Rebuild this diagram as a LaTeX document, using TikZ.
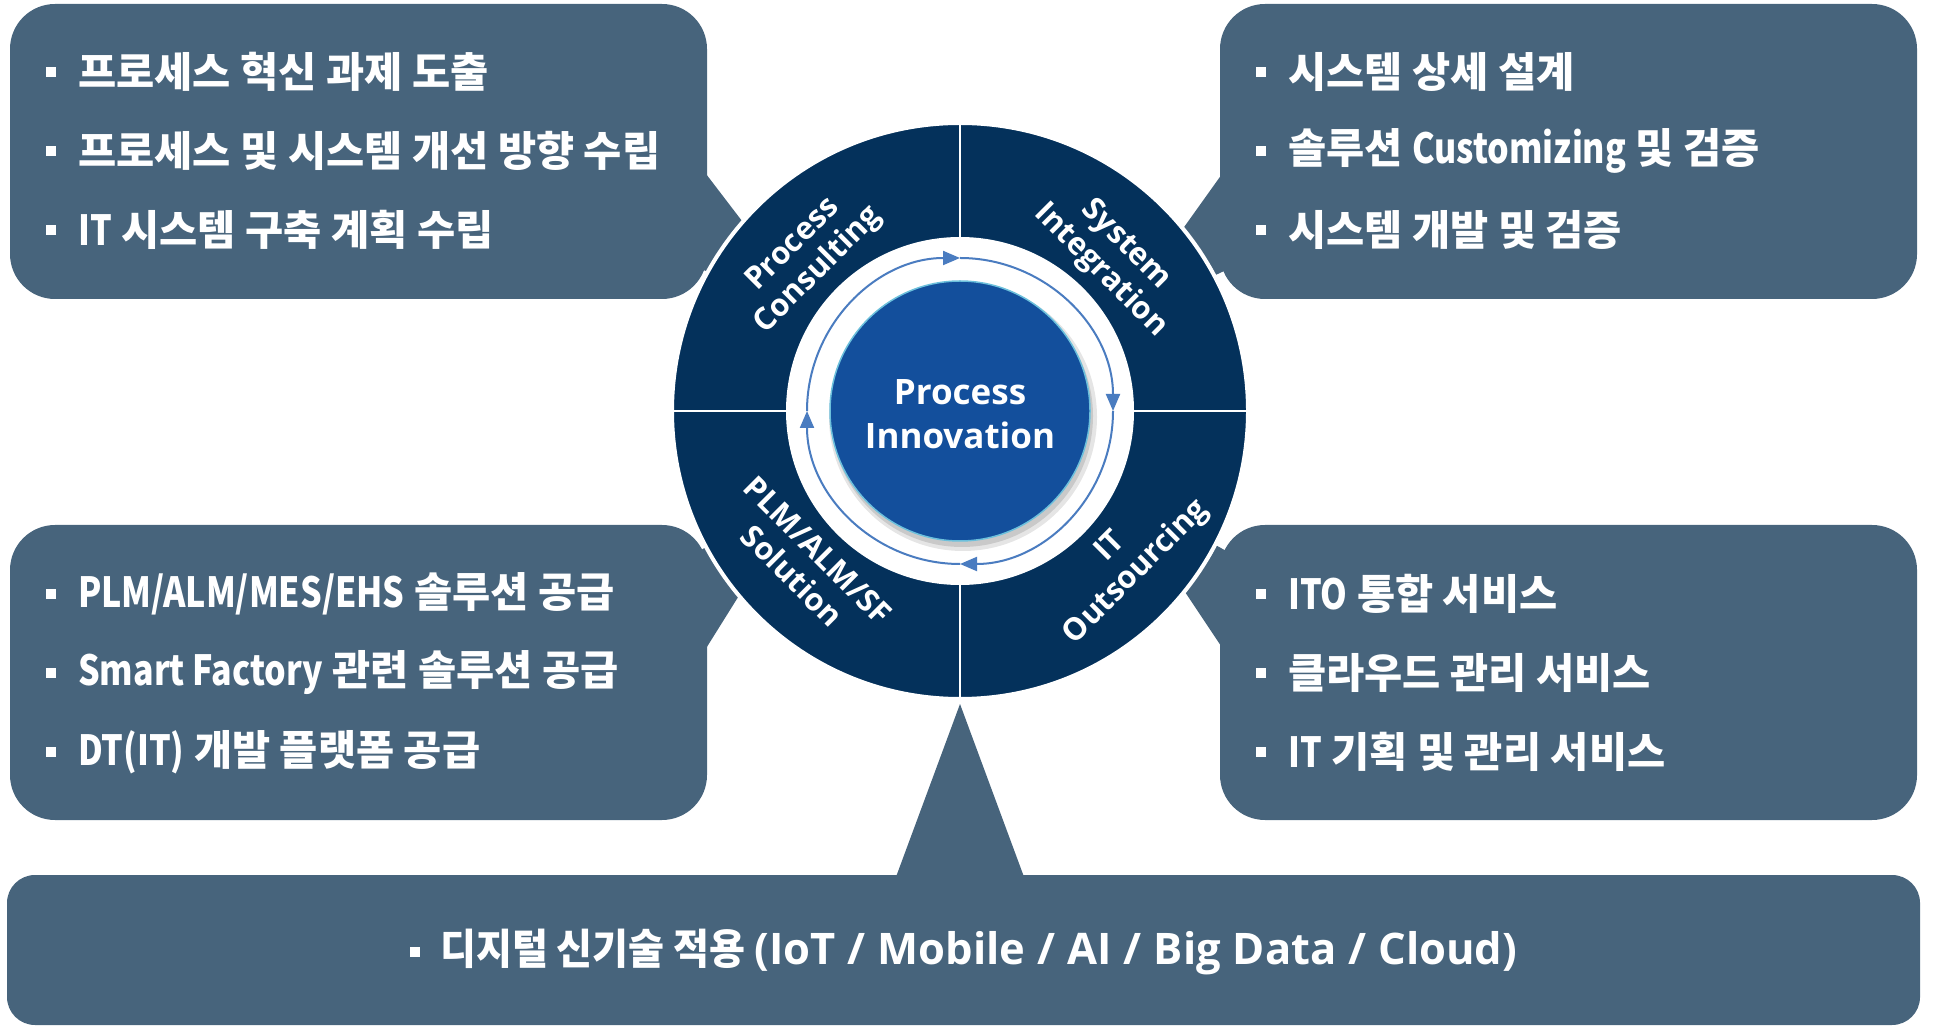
\documentclass[tikz,border=0pt]{standalone}
\usepackage{fontspec}
\setmainfont{Noto Sans CJK KR}
\newfontfamily\krfont{Noto Sans CJK KR}
\newfontfamily\latfont{Noto Sans CJK KR}[FakeStretch=0.82]
\newfontfamily\bkfont{Noto Sans CJK KR}[FakeStretch=0.93]
\newfontfamily\ringfont{Open Sans}
\newcommand{\lt}[1]{{\latfont\bfseries #1}}
\usetikzlibrary{arrows.meta}
\definecolor{boxc}{HTML}{47647C}
\definecolor{ringc}{HTML}{04315B}
\definecolor{innerc}{HTML}{134F9C}
\definecolor{arrc}{HTML}{4A7CC0}
\definecolor{edgec}{HTML}{6CC0DC}
\tikzset{
  boxshape/.style={rounded corners=45pt, fill=boxc, draw=none, inner sep=0pt},
  ptr/.style={fill=boxc, draw=none},
  item/.style={anchor=west, text=white, inner sep=0pt, font=\krfont\bfseries\fontsize{41.5}{48}\selectfont},
  bul/.style={fill=white, draw=none, minimum size=10pt, inner sep=0pt},
  ringlbl/.style={text=white, align=center, inner sep=0pt, font=\ringfont\bfseries\fontsize{31}{36}\selectfont},
  cyc/.style={arrc, line width=2pt, -{Triangle[length=17pt,width=14pt]}},
}
\begin{document}
\begin{tikzpicture}[x=1pt,y=1pt]
\useasboundingbox (0,0) rectangle (1937,1026);
% pointers
\fill[ptr] (690,873) -- (690,761) -- (810,716) -- cycle;
\fill[ptr] (1237,873) -- (1237,761) -- (1117,705) -- cycle;
\fill[ptr] (690,352) -- (690,469) -- (810,544) -- cycle;
\fill[ptr] (1237,356) -- (1237,469) -- (1117,536) -- cycle;
\fill[ptr] (893,141) -- (1027,141) -- (960,322) -- cycle;
% boxes
\node[boxshape, minimum width=697pt, minimum height=295pt] (tl) at (358.5,874.5) {};
\node[boxshape, minimum width=697pt, minimum height=295pt] (tr) at (1568.5,874.5) {};
\node[boxshape, minimum width=697pt, minimum height=295pt] (bl) at (358.5,353.5) {};
\node[boxshape, minimum width=697pt, minimum height=295pt] (br) at (1568.5,353.5) {};
\node[boxshape, rounded corners=28pt, minimum width=1913pt, minimum height=150pt] (bot) at (963.5,76) {};
% ring
\node[circle, fill=ringc, draw=white, line width=4pt, minimum size=576pt, inner sep=0pt] (ring) at (960,615) {};
\draw[white, line width=2.5pt] (ring.west) -- (ring.east);
\draw[white, line width=2.5pt] (ring.north) -- (ring.south);
\node[circle, fill=white, minimum size=348pt, inner sep=0pt] (gap) at (960,615) {};
% cycle arrows
\draw[cyc] (960-153,615) arc (180:90:153);
\draw[cyc] (960,615+153) arc (90:0:153);
\draw[cyc] (960+153,615) arc (0:-90:153);
\draw[cyc] (960,615-153) arc (-90:-180:153);
% inner circle
\fill[black, opacity=0.10] (963,609) circle (134pt);
\fill[black, opacity=0.12] (962,610) circle (131pt);
\node[circle, fill=innerc, draw=edgec, line width=1.5pt, minimum size=260pt, inner sep=0pt] (core) at (960,615) {};
\node[text=white, align=center, font=\ringfont\bfseries\fontsize{35}{44}\selectfont] (coretxt) at (960,612) {Process\\Innovation};
% ring labels
\node[ringlbl, rotate=45] (pc) at (806,768) {Process\\Consulting};
\node[ringlbl, rotate=-45] (si) at (1113,768) {System\\Integration};
\node[ringlbl, rotate=-45] (plm) at (805,463) {PLM/ALM/SF\\Solution};
\node[ringlbl, rotate=45] (ito) at (1124,466) {IT\\Outsourcing};
% top-left text
\node[bul] (b1) at (51,954) {}; \node[item] (t1) at (78,954) {프로세스 혁신 과제 도출};
\node[bul] (b2) at (51,875) {}; \node[item] (t2) at (78,875) {프로세스 및 시스템 개선 방향 수립};
\node[bul] (b3) at (51,796) {}; \node[item] (t3) at (78,796) {\lt{IT} 시스템 구축 계획 수립};
% top-right text
\node[bul] (b4) at (1261,954) {}; \node[item] (t4) at (1288,954) {시스템 상세 설계};
\node[bul] (b5) at (1261,875) {}; \node[item] (t5) at (1288,875) {솔루션 \lt{Customizing} 및 검증};
\node[bul] (b6) at (1261,796) {}; \node[item] (t6) at (1288,796) {시스템 개발 및 검증};
% bottom-left text
\node[bul] (b7) at (51,432) {}; \node[item] (t7) at (78,432) {\lt{PLM/ALM/MES/EHS} 솔루션 공급};
\node[bul] (b8) at (51,353) {}; \node[item] (t8) at (78,353) {\lt{Smart Factory} 관련 솔루션 공급};
\node[bul] (b9) at (51,274) {}; \node[item] (t9) at (78,274) {\lt{DT(IT)} 개발 플랫폼 공급};
% bottom-right text
\node[bul] (b10) at (1261,432) {}; \node[item] (t10) at (1288,432) {\lt{ITO} 통합 서비스};
\node[bul] (b11) at (1261,353) {}; \node[item] (t11) at (1288,353) {클라우드 관리 서비스};
\node[bul] (b12) at (1261,274) {}; \node[item] (t12) at (1288,274) {\lt{IT} 기획 및 관리 서비스};
% bottom text
\node[bul] (b13) at (415,74) {};
\node[anchor=west, text=white, inner sep=0pt, font=\bkfont\bfseries\fontsize{42}{48}\selectfont] (t13) at (440,74) {디지털 신기술 적용 {\ringfont\bfseries\fontsize{43.5}{48}\selectfont\spaceskip=12pt plus 2pt (IoT / Mobile / AI / Big Data / Cloud)}};
\end{tikzpicture}
\end{document}
